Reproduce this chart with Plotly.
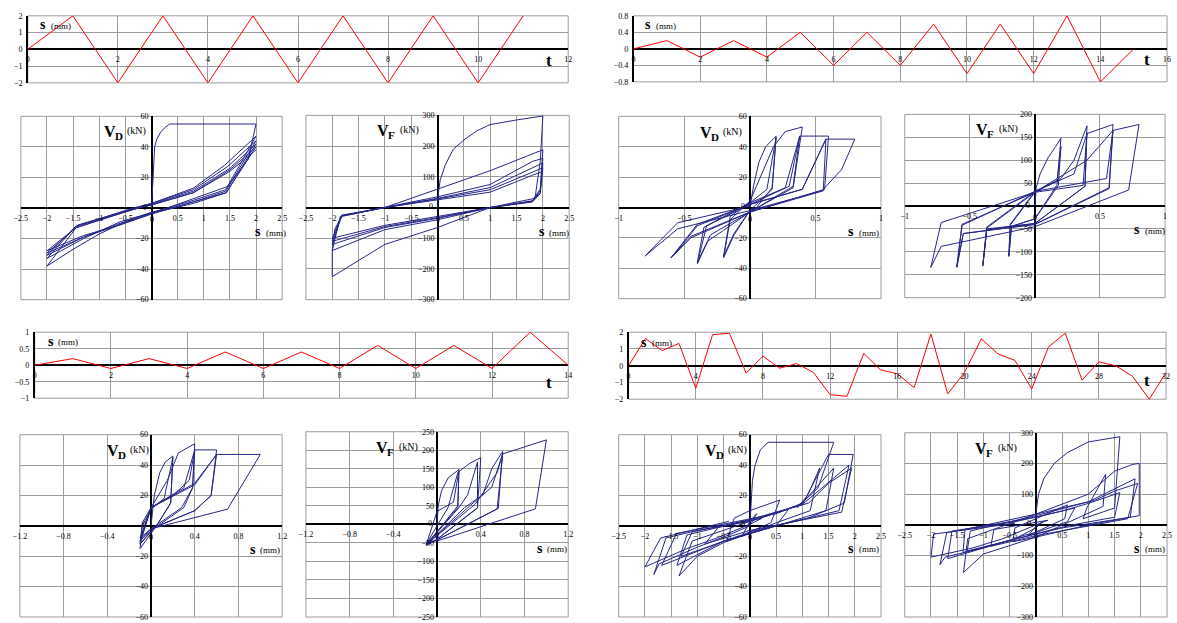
import plotly.graph_objects as go

W, H = 1177, 623
FONT = "Liberation Serif"
NAVY = "#26268a"
RED = "#ff0000"
GRID = "#9c9c9c"

# ---------------- loading histories ----------------
A_t = [0, 1, 2, 3, 4, 5, 6, 7, 8, 9, 10, 11]
A_s = [0, 2, -2, 2, -2, 2, -2, 2, -2, 2, -2, 2]

B_t = [0, 1, 2, 3, 4, 5, 6, 7, 8, 9, 10, 11, 12, 13, 14, 15]
B_s = [0, 0.2, -0.2, 0.2, -0.2, 0.4, -0.4, 0.4, -0.4, 0.6, -0.6, 0.6, -0.6, 0.8, -0.8, 0]

G_t = [0, 1, 2, 3, 4, 5, 6, 7, 8, 9, 10, 11, 12, 13, 14]
G_s = [0, 0.2, -0.1, 0.2, -0.1, 0.4, -0.1, 0.4, -0.1, 0.6, -0.1, 0.6, -0.1, 1.0, 0]

H_t = [0, 1, 2, 3, 4, 5, 6, 7, 8, 9, 10, 11, 12, 13, 14, 15, 16,
       17, 18, 19, 20, 21, 22, 23, 24, 25, 26, 27, 28, 29, 30, 31, 32]
H_s = [0, 1.62, 0.9, 1.33, -1.35, 1.85, 1.94, -0.44, 0.57, -0.15, 0.13, -0.4, -1.73,
       -1.83, 0.74, -0.25, -0.48, -1.31, 1.89, -1.68, -0.4, 1.6, 0.7, 0.32, -1.39,
       1.12, 1.94, -0.86, 0.23, 0.0, -0.63, -2.0, -0.4]

# ---------------- tick values (zero is labelled separately at the origin) ----------------
TICK_S25 = [-2.5, -2, -1.5, -1, -0.5, 0.5, 1, 1.5, 2, 2.5]
TICK_S10 = [-1, -0.5, 0.5, 1]
TICK_S12 = [-1.2, -0.8, -0.4, 0.4, 0.8, 1.2]
TICK_V60 = [-60, -40, -20, 20, 40, 60]
TICK_V300 = [-300, -200, -100, 100, 200, 300]
TICK_V200 = [-200, -150, -100, -50, 50, 100, 150, 200]
TICK_V250 = [-250, -200, -150, -100, -50, 50, 100, 150, 200, 250]

# ---------------- hysteresis loops ----------------
# C: V_D, cyclic +-2 mm
C_s = [0, 0.02, 0.04, 0.06, 0.1, 0.18, 0.27, 0.35, 2.0,
       1.85, 1.45, 0.8, 0.3, 0, -0.5, -1.0, -1.5, -2.0,
       -1.4, -0.3, 0, 0.8, 1.4, 2.0,
       1.42, 0.8, 0.3, 0, -0.6, -1.3, -2.0,
       -1.45, -0.35, 0, 0.8, 1.45, 2.0,
       1.42, 0.8, 0.3, 0, -0.6, -1.3, -2.0,
       -1.45, -0.35, 0, 0.8, 1.5, 2.0,
       1.43, 0.8, 0.3, 0, -0.6, -1.3, -2.0,
       -1.45, -0.35, 0, 0.8, 1.5, 2.0,
       1.43, 0.8, 0.3, 0, -0.6, -1.3, -2.0,
       -1.45, -0.4, 0, 0.8, 1.5, 2.0]
C_v = [0, 15, 30, 40, 45, 50, 53, 55, 55,
       32, 14, 6, 0, -3, -9, -17, -27, -38,
       -11, 0, 3, 13, 28, 47,
       12, 5, 0, -3, -9, -20, -33,
       -12, 0, 3, 12, 27, 44,
       11, 4, -1, -3, -10, -19, -31,
       -12, -1, 2.5, 11, 26, 42,
       10, 4, -1, -3.5, -11, -19, -29.5,
       -13, -1, 2, 10, 25, 40,
       10, 3, -1, -4, -11, -18, -28,
       -13, -1, 2, 10, 24, 38]

# D: V_F, cyclic +-2 mm
D_s = [0, 0.01, 0.05, 0.15, 0.3, 0.5, 0.75, 1.0, 1.5, 2.0,
       1.95, 1.85, 1.0, 0, -1.0, -2.0,
       -2.0, -1.85, -1.0, 0, 1.0, 2.0,
       1.95, 1.8, 1.0, 0, -1.0, -2.0,
       -1.95, -1.82, -1.0, 0, 1.0, 1.8, 2.0,
       1.95, 1.8, 1.0, 0, -1.0, -2.0,
       -1.82, -1.0, 0, 1.0, 1.8, 2.0,
       1.95, 1.8, 1.0, 0, -1.0, -2.0,
       -1.82, -1.0, 0, 1.0, 1.8, 2.0,
       1.95, 1.8, 1.0, 0, -1.0, -2.0,
       -1.82, -1.0, 0, 1.0, 1.8, 2.0]
D_v = [0, 40, 90, 140, 190, 220, 250, 270, 285, 298,
       150, 30, 0, -65, -120, -225,
       -140, -30, 0, 60, 120, 188,
       60, 22, 0, -40, -72, -140,
       -70, -28, 0, 35, 75, 150, 160,
       55, 20, 0, -35, -65, -120,
       -27, 0, 30, 65, 130, 145,
       50, 20, 0, -33, -62, -110,
       -26, 0, 28, 58, 115, 130,
       45, 18, 0, -30, -58, -100,
       -25, 0, 25, 50, 105, 118]

# E: V_D, increasing small amplitude
E_s = [0, 0.03, 0.07, 0.12, 0.2,
       0.17, 0.05, 0, -0.12, -0.2,
       -0.15, -0.05, 0, 0.13, 0.2,
       0.17, 0, -0.12, -0.2,
       -0.15, 0, 0.18, 0.27, 0.4,
       0.33, 0, -0.2, -0.32, -0.4,
       -0.33, 0, 0.27, 0.38,
       0.33, 0, -0.3, -0.4,
       -0.35, 0, 0.3, 0.38, 0.6,
       0.57, 0.3, 0, -0.45, -0.6,
       -0.4, 0, 0.4, 0.58,
       0.56, 0, -0.45, -0.6,
       -0.4, 0, 0.4, 0.58, 0.8,
       0.7, 0.55, 0, -0.55, -0.8,
       -0.55, 0]
E_v = [0, 15, 30, 40, 47,
       13, 0, -2, -18, -33,
       -8, 0, 3, 12, 46,
       12, -2, -17, -32,
       -6, 4, 40, 50, 53,
       13, -3, -15, -22, -37,
       -12, 3, 13, 47,
       14, -3, -18, -36,
       -13, 2, 14, 47, 47,
       12, 5, -3, -20, -33,
       -12, 2, 12, 45,
       11, -3, -19, -33,
       -11, 2, 12, 45, 45,
       25, 11, -2, -14, -32,
       -10, 1]

# F: V_F, increasing small amplitude
F_s = [0, 0.01, 0.04, 0.1, 0.16, 0.2,
       0.17, 0, -0.18, -0.2,
       -0.19, 0, 0.17, 0.2,
       0.18, 0, -0.18, -0.2,
       -0.19, 0, 0.2, 0.3, 0.4,
       0.385, 0, -0.37, -0.4,
       -0.37, 0, 0.37, 0.4,
       0.385, 0, -0.37, -0.4,
       -0.37, 0, 0.3, 0.4, 0.6,
       0.57, 0, -0.55, -0.6,
       -0.56, 0, 0.55, 0.6,
       0.57, 0, -0.55, -0.6,
       -0.56, 0, 0.4, 0.6, 0.8,
       0.72, 0, -0.72, -0.8,
       -0.72, 0]
F_v = [0, 40, 70, 105, 130, 148,
       46, -28, -45, -110,
       -42, 30, 55, 130,
       45, -28, -44, -108,
       -40, 32, 60, 100, 175,
       43, -38, -52, -131,
       -48, 30, 45, 160,
       43, -38, -50, -128,
       -46, 32, 70, 158, 178,
       40, -40, -60, -134,
       -42, 32, 60, 165,
       38, -40, -60, -132,
       -40, 30, 100, 165, 178,
       35, -45, -88, -134,
       -36, 30]

# I: V_D, one-sided increasing amplitude
I_s = [0, 0.03, 0.08, 0.13, 0.2,
       0.18, 0.05, -0.1,
       -0.08, 0, 0.12, 0.2,
       0.18, 0.05, -0.1,
       -0.08, 0, 0.15, 0.25, 0.4,
       0.38, 0.3, 0, -0.1,
       0, 0.2, 0.35, 0.4,
       0.38, 0.28, 0, -0.1,
       0, 0.3, 0.4, 0.6,
       0.55, 0.4, 0, -0.1,
       0, 0.4, 0.6,
       0.55, 0.4, 0, -0.1,
       0, 0.4, 0.6, 1.0,
       0.7, 0]
I_v = [0, 20, 35, 42, 46,
       15, 0, -15,
       0, 11, 18, 45,
       15, 0, -12,
       2, 12, 30, 48, 54,
       25, 12, -3, -12,
       12, 20, 30, 50,
       25, 12, -2, -10,
       12, 25, 50, 50,
       20, 10, -2, -10,
       12, 27, 47,
       20, 10, -2, -8,
       12, 28, 47, 47,
       11, -2]

# J: V_F, one-sided increasing amplitude
J_s = [0, 0.01, 0.04, 0.1, 0.2,
       0.19, 0, -0.1,
       0, 0.15, 0.2,
       0.19, 0, -0.1,
       0.1, 0.19, 0.3, 0.4,
       0.37, 0, -0.1,
       0.2, 0.28, 0.37,
       0.37, 0, -0.1,
       0.25, 0.42, 0.5, 0.6,
       0.56, 0, -0.1,
       0.3, 0.5, 0.6,
       0.55, 0, -0.1,
       0.35, 0.55, 0.6, 0.8, 1.0,
       0.9, 0]
J_v = [0, 50, 90, 125, 148,
       50, -20, -55,
       35, 60, 145,
       45, -20, -53,
       45, 140, 165, 180,
       45, -40, -55,
       45, 80, 168,
       44, -40, -56,
       45, 80, 150, 197,
       43, -42, -55,
       50, 100, 190,
       42, -42, -55,
       55, 140, 190, 210, 228,
       42, -45]

# K: V_D, random history
K_s = [0, 0.02, 0.05, 0.1, 0.2, 0.35, 1.6,
       1.3, 0.9,
       1.1, 1.33,
       1.15, 0.5, 0, -0.5, -1.0, -1.35,
       -1.1, -0.5, 0, 1.0, 1.5, 1.85,
       1.97,
       1.8, 1.1, 0, -0.44,
       -0.3, 0, 0.57,
       0.4, 0, -0.15,
       0, 0.13,
       0, -0.4,
       -1.0, -1.73,
       -1.83,
       -1.6, -1.0, 0, 0.74,
       0.5, 0, -0.25,
       -0.48,
       -1.31,
       -1.1, 0, 1.0, 1.89,
       1.7, 0.5, -0.5, -1.68,
       -1.4, -0.4,
       0.5, 1.0, 1.6,
       1.45, 0.7,
       0.32,
       -0.5, -1.39,
       -1.2, 0, 1.12,
       1.5, 1.94,
       1.75, 0, -0.86,
       -0.6, 0.23,
       0,
       -0.63,
       -1.2, -2.0,
       -1.7, -0.4]
K_v = [0, 15, 30, 40, 50, 55, 55,
       25, 12,
       20, 38,
       10, 2, -5, -11, -20, -33,
       -10, -3, 3, 14, 47, 47,
       47,
       15, 5, -4, -10,
       5, 10, 17,
       2, -4, -7,
       3, 8,
       0, -6,
       -14, -25,
       -32,
       -8, -3, 3, 11,
       0, -5, -7,
       -10,
       -20,
       -4, 4, 14, 40,
       10, 0, -10, -26,
       -5, 2,
       8, 15, 38,
       10, 2,
       -2,
       -10, -26,
       -6, 4, 15,
       28, 38,
       9, -3, -12,
       -1, 5,
       1,
       -8,
       -15, -27,
       -8, 3]

# L: V_F, random history
L_s = [0, 0.01, 0.05, 0.15, 0.35, 0.6, 1.0, 1.6,
       1.5, 0.9,
       0.97, 1.33,
       1.28, 0, -1.0, -1.38,
       -1.3, 0, 1.0, 1.5, 1.85,
       1.97,
       1.97, 1.0, 0, -0.44,
       -0.4, 0, 0.6,
       0.55, 0, -0.15,
       0, 0.13,
       0, -0.4,
       -1.0, -1.73,
       -1.83,
       -1.7, 0, 0.74,
       0.6, 0, -0.25,
       -0.48,
       -1.31,
       -1.25, 0, 1.0, 1.89,
       1.8, 0.5, -0.5, -1.68,
       -1.6, -0.4,
       0.5, 1.0, 1.6,
       1.5, 0.7,
       0.32,
       -0.5, -1.39,
       -1.35, 0, 1.12,
       1.5, 1.94,
       1.75, 0, -0.86,
       -0.8, 0.23,
       0,
       -0.63,
       -1.2, -2.0,
       -1.95, -0.4]
L_v = [0, 50, 100, 150, 200, 235, 270, 287,
       55, 20,
       55, 165,
       60, -40, -95, -155,
       -45, 35, 100, 175, 197,
       200,
       30, 0, -40, -55,
       -10, 20, 65,
       20, -25, -35,
       -5, 10,
       -10, -45,
       -75, -105,
       -130,
       -25, 25, 55,
       10, -25, -35,
       -50,
       -85,
       -20, 30, 75, 150,
       25, -10, -50, -110,
       -20, 10,
       45, 70, 105,
       25, 0,
       -15,
       -50, -90,
       -15, 35, 80,
       110, 135,
       20, -35, -70,
       -15, 15,
       0,
       -45,
       -75, -105,
       -30, 5]

# ---------------- panel layout (pixel boxes: left, top, right, bottom) ----------------
panels = [
    dict(kind="t", box=(21, 12, 567, 80), xr=(0, 12), yr=(-2, 2), dx=2, dy=1, x=A_t, y=A_s,
         slab=(45, 22), tlab=(548, 57)),
    dict(kind="t", box=(633, 12, 1172, 79), xr=(0, 16), yr=(-0.8, 0.8), dx=2, dy=0.4, x=B_t, y=B_s,
         slab=(657, 22), tlab=(1152, 56)),
    dict(kind="h", box=(14, 114, 278, 300), xr=(-2.5, 2.5), yr=(-60, 60), tx=TICK_S25, ty=TICK_V60,
         x=C_s, y=C_v, v="D", vlab=(115, 130), slab=(263, 232)),
    dict(kind="h", box=(302, 113, 568, 300), xr=(-2.5, 2.5), yr=(-300, 300), tx=TICK_S25, ty=TICK_V300,
         x=D_s, y=D_v, v="F", vlab=(391, 129), slab=(549, 232)),
    dict(kind="h", box=(618, 114, 883, 299), xr=(-1, 1), yr=(-60, 60), tx=TICK_S10, ty=TICK_V60,
         x=E_s, y=E_v, v="D", vlab=(717, 131), slab=(862, 232)),
    dict(kind="h", box=(907, 112, 1170, 298), xr=(-1, 1), yr=(-200, 200), tx=TICK_S10, ty=TICK_V200,
         x=F_s, y=F_v, v="F", vlab=(996, 128), slab=(1151, 230)),
    dict(kind="t", box=(28, 333, 567, 400), xr=(0, 14), yr=(-1, 1), dx=2, dy=0.5, x=G_t, y=G_s,
         slab=(53, 343), tlab=(548, 384)),
    dict(kind="t", box=(628, 333, 1171, 401), xr=(0, 32), yr=(-2, 2), dx=4, dy=1, x=H_t, y=H_s,
         slab=(653, 344), tlab=(1152, 382)),
    dict(kind="h", box=(13, 437, 278, 622), xr=(-1.2, 1.2), yr=(-60, 60), tx=TICK_S12, ty=TICK_V60,
         x=I_s, y=I_v, v="D", vlab=(118, 454), slab=(257, 554)),
    dict(kind="h", box=(302, 434, 567, 622), xr=(-1.2, 1.2), yr=(-250, 250), tx=TICK_S12, ty=TICK_V250,
         x=J_s, y=J_v, v="F", vlab=(390, 451), slab=(547, 553)),
    dict(kind="h", box=(618, 437, 883, 622), xr=(-2.5, 2.5), yr=(-60, 60), tx=TICK_S25, ty=TICK_V60,
         x=K_s, y=K_v, v="D", vlab=(722, 454), slab=(862, 553)),
    dict(kind="h", box=(907, 435, 1172, 622), xr=(-2.5, 2.5), yr=(-300, 300), tx=TICK_S25, ty=TICK_V300,
         x=L_s, y=L_v, v="F", vlab=(995, 452), slab=(1151, 553)),
]

fig = go.Figure()
layout = dict(width=W, height=H, margin=dict(l=0, r=0, t=0, b=0), showlegend=False,
              paper_bgcolor="white", plot_bgcolor="rgba(0,0,0,0)")
shapes, annotations = [], []
tickfont = dict(family=FONT, size=8, color="black")


def px(x):
    return x / W


def py(y):
    return 1 - y / H


def label(xp, yp, text, size, anchor="left"):
    annotations.append(dict(x=px(xp), y=py(yp), xref="paper", yref="paper", showarrow=False,
                            xanchor=anchor, yanchor="middle", text=text,
                            font=dict(family=FONT, size=size, color="black")))


for i, p in enumerate(panels, start=1):
    L, T, R, B = p["box"]
    x0, x1 = p["xr"]
    y0, y1 = p["yr"]
    zx = L + (0 - x0) / (x1 - x0) * (R - L)
    zy = T + (y1 - 0) / (y1 - y0) * (B - T)
    xa = "xaxis" if i == 1 else f"xaxis{i}"
    ya = "yaxis" if i == 1 else f"yaxis{i}"
    xs = "x" if i == 1 else f"x{i}"
    ys = "y" if i == 1 else f"y{i}"
    color = RED if p["kind"] == "t" else NAVY
    fig.add_trace(go.Scatter(x=p["x"], y=p["y"], mode="lines", xaxis=xs, yaxis=ys,
                             line=dict(color=color, width=1), hoverinfo="skip"))
    common = dict(showgrid=True, gridcolor=GRID, gridwidth=1, ticks="", tickfont=tickfont,
                  zerolinecolor="black", zerolinewidth=1.5, ticklabeloverflow="allow",
                  fixedrange=True)
    if p["kind"] == "h":
        layout[xa] = dict(domain=[px(L), px(R)], range=[x0, x1], tickmode="array",
                          tickvals=p["tx"], anchor="free", position=py(zy), zeroline=True,
                          showline=False, ticklabelstandoff=4, **common)
        layout[ya] = dict(domain=[py(B), py(T)], range=[y0, y1], tickmode="array",
                          tickvals=p["ty"], anchor="free", position=px(zx), zeroline=True,
                          showline=False, ticklabelstandoff=3, **common)
        # both axes show "0" at the origin
        annotations.append(dict(x=0, y=0, xref=xs, yref=ys, showarrow=False, text="0",
                                xanchor="center", yanchor="top", yshift=-5, font=tickfont))
        annotations.append(dict(x=0, y=0, xref=xs, yref=ys, showarrow=False, text="0",
                                xanchor="right", yanchor="middle", xshift=-3, yshift=1,
                                font=tickfont))
    else:
        layout[xa] = dict(domain=[px(L), px(R)], range=[x0, x1], dtick=p["dx"], tick0=0,
                          anchor="free", position=py(zy), zeroline=False,
                          showline=False, ticklabelstandoff=4, **common)
        layout[ya] = dict(domain=[py(B), py(T)], range=[y0, y1], dtick=p["dy"], tick0=0,
                          anchor=xs, zeroline=True, showline=True, linecolor="black",
                          linewidth=1.5, ticklabelstandoff=2, **common)
    shapes.append(dict(type="rect", xref="paper", yref="paper", x0=px(L), x1=px(R),
                       y0=py(B), y1=py(T), line=dict(color=GRID, width=1), layer="below"))
    # axis titles: "s (mm)"
    sx, sy = p["slab"]
    label(sx - 14, sy - 1, "<b>s</b>", 14)
    label(sx - 3, sy, "(mm)", 9)
    if p["kind"] == "h":
        vx, vy = p["vlab"]
        label(vx - 19, vy - 1, "<b>V</b>", 16)
        label(vx - 8, vy + 4, f"<b>{p['v']}</b>", 11)
        label(vx + 4, vy - 1, "(kN)", 10)
    else:
        tx, ty = p["tlab"]
        label(tx, ty, "<b>t</b>", 17, anchor="center")

layout["shapes"] = shapes
layout["annotations"] = annotations
fig.update_layout(**layout)
fig.write_html("out.html")
